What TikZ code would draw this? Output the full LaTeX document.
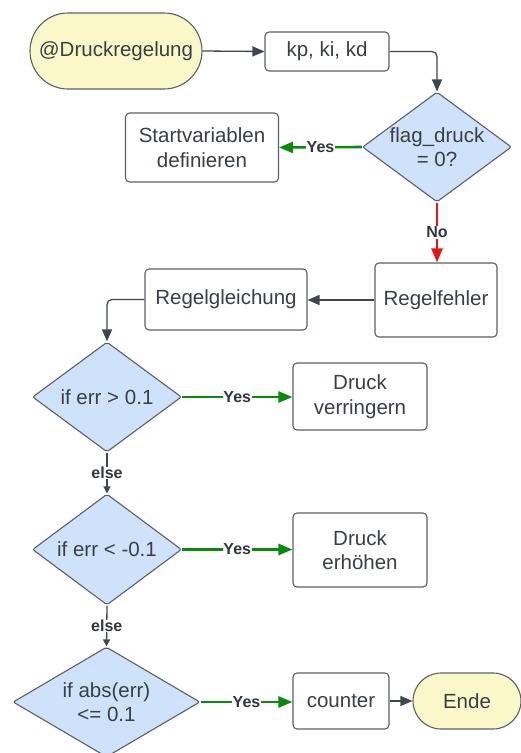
\documentclass[tikz,border=0pt]{standalone}
\usepackage{fontspec}
\setmainfont{Liberation Sans}
\usetikzlibrary{shapes.geometric,arrows.meta}
\definecolor{ink}{HTML}{3A3F46}
\definecolor{edgec}{HTML}{5B6068}
\definecolor{yel}{HTML}{FAF8C9}
\definecolor{blu}{HTML}{CFE2FB}
\definecolor{grn}{HTML}{0A8A0A}
\definecolor{rd}{HTML}{E81515}
\definecolor{connc}{HTML}{3F4650}
\tikzset{
  txt/.style={text=ink, font=\fontsize{20.5}{24.5}\selectfont, align=center},
  base/.style={txt, draw=edgec, line width=1.1pt, inner sep=0pt},
  box/.style={base, rectangle, rounded corners=4pt, fill=white},
  term/.style={base, rectangle, fill=yel},
  dia/.style={base, diamond, fill=blu, rounded corners=2pt, minimum width=149pt, minimum height=110pt},
  conn/.style={draw=connc, line width=1.3pt, rounded corners=5pt, -{Triangle[length=12pt,width=10pt]}},
  small/.style={draw=connc, line width=1.3pt, -{Triangle[length=7pt,width=7pt]}},
  yes/.style={draw=grn, line width=2.6pt, -{Triangle[length=14pt,width=11pt]}},
  noarr/.style={draw=rd, line width=2.6pt, -{Triangle[length=14pt,width=11pt]}},
  lbl/.style={fill=white, inner sep=0.6pt, text=ink!85!black, font=\fontsize{16}{18}\bfseries\selectfont},
}
\begin{document}
\begin{tikzpicture}[x=1pt,y=-1pt]
\clip (0,0) rectangle (521,753);
\fill[white] (0,0) rectangle (521,753);

\node[term, rounded corners=38pt, minimum width=172pt, minimum height=76pt] (start) at (116,51) {@Druckregelung};
\node[box, minimum width=124pt, minimum height=39pt] (kp) at (327,51.5) {kp, ki, kd};
\node[dia, label={[txt]center:{flag\_druck\\= 0?}}] (flag) at (437,147) {};
\node[box, minimum width=153pt, minimum height=69pt] (startv) at (202,147.5) {Startvariablen\\definieren};
\node[box, minimum width=122pt, minimum height=74pt] (fehler) at (436,300) {Regelfehler};
\node[box, minimum width=162pt, minimum height=61pt] (gleich) at (226,299.5) {Regelgleichung};
\node[dia, label={[txt]center:{if err > 0.1}}] (d1) at (107,397) {};
\node[box, minimum width=134pt, minimum height=67pt] (verr) at (360,396.5) {Druck\\verringern};
\node[dia, minimum height=111pt, label={[txt]center:{if err < -0.1}}] (d2) at (107,549.5) {};
\node[box, minimum width=134pt, minimum height=74pt] (erh) at (360,550) {Druck\\erhöhen};
\node[dia, minimum width=187pt, label={[txt]center:{if abs(err)\\<= 0.1}}] (d3) at (106.5,702) {};
\node[box, minimum width=96pt, minimum height=56pt] (counter) at (341,701) {counter};
\node[term, rounded corners=28pt, minimum width=108pt, minimum height=56pt] (ende) at (467,701) {Ende};

\draw[conn] (start.east) -- (kp.west);
\draw[conn] (kp.east) -| (flag.north);
\draw[yes] (flag.west) -- node[lbl] {Yes} (startv.east);
\draw[noarr] (flag.south) -- node[lbl] {No} (fehler.north -| flag.south);
\draw[conn] (fehler.west) -- (gleich.east |- fehler.west);
\draw[conn] (gleich.west) -| (d1.north);
\draw[yes] (d1.east) -- node[lbl] {Yes} (verr.west |- d1.east);
\draw[small] (d1.south) -- node[lbl] {else} (d2.north);
\draw[yes] (d2.east) -- node[lbl] {Yes} (erh.west |- d2.east);
\draw[small] (d2.south) -- node[lbl] {else} (d3.north);
\draw[yes] (d3.east) -- node[lbl] {Yes} (counter.west |- d3.east);
\draw[conn] (counter.east) -- (ende.west);
\end{tikzpicture}
\end{document}
